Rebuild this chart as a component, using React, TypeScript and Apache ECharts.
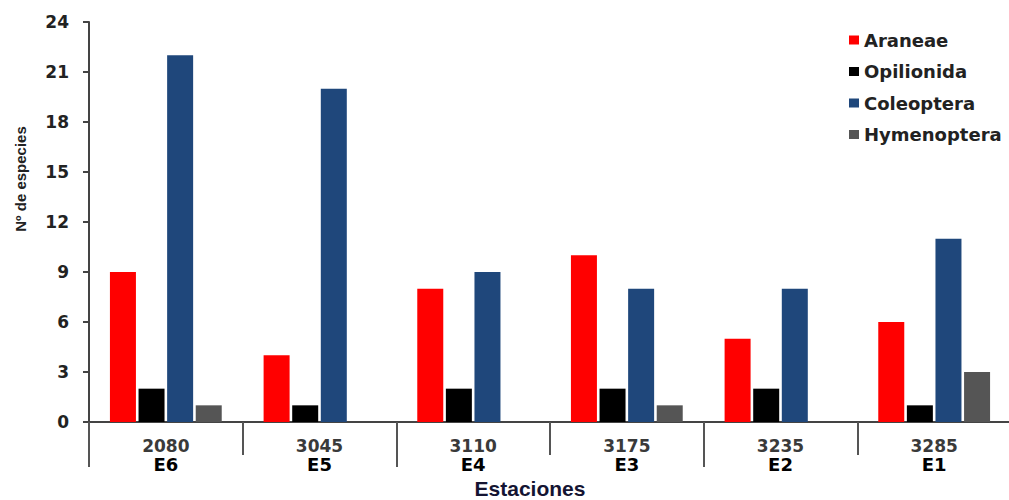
import React, { useEffect, useRef } from "react";
import * as echarts from "echarts";

const altitudes = ["2080", "3045", "3110", "3175", "3235", "3285"];
const stations = ["E6", "E5", "E4", "E3", "E2", "E1"];
const araneae = [9, 4, 8, 10, 5, 6];
const opilionida = [2, 1, 2, 2, 2, 1];
const coleoptera = [22, 20, 9, 8, 8, 11];
const hymenoptera = [1, 0, 0, 1, 0, 3];
const yTicks = [0, 3, 6, 9, 12, 15, 18, 21, 24];

const WIDE = "DejaVu Sans, Verdana, sans-serif";
const ARIAL = "Liberation Sans, Arial, sans-serif";

export default function App() {
  const ref = useRef<HTMLDivElement>(null);
  useEffect(() => {
    document.body.style.margin = "0";
    const chart = echarts.init(ref.current!, null, { renderer: "svg" });
    const cats = altitudes.map((a, i) => `${a}\n${stations[i]}`);
    const mk = (name: string, data: number[], color: string) => ({
      name,
      type: "bar",
      data: data.map((v) => (v === 0 ? null : v)),
      barWidth: 26,
      barGap: "10%",
      itemStyle: { color },
    });
    chart.setOption({
      animation: false,
      backgroundColor: "#ffffff",
      textStyle: { fontFamily: WIDE },
      grid: { left: 89, top: 22, bottom: 78, width: 922, outerBoundsMode: "none", containLabel: false },
      legend: {
        orient: "vertical",
        left: 844,
        top: 26,
        itemWidth: 10,
        itemHeight: 9,
        itemGap: 13.5,
        icon: "rect",
        textStyle: { fontFamily: WIDE, fontWeight: "bold", fontSize: 18, color: "#222" },
        data: ["Araneae", "Opilionida", "Coleoptera", "Hymenoptera"],
      },
      xAxis: [
        {
          type: "category",
          data: cats,
          axisLine: { lineStyle: { color: "#444", width: 2 } },
          axisTick: { show: true, length: 33, lineStyle: { color: "#555", width: 2 } },
          axisLabel: {
            margin: 14,
            formatter: (v: string) => {
              const [a, b] = v.split("\n");
              return `{a|${a}}\n{b|${b}}`;
            },
            rich: {
              a: { fontFamily: WIDE, fontWeight: "bold", fontSize: 17, color: "#3a3a3a", lineHeight: 19 },
              b: { fontFamily: WIDE, fontWeight: "bold", fontSize: 18, color: "#000", lineHeight: 19 },
            },
          },
        },
        {
          type: "category",
          data: cats,
          position: "bottom",
          axisLine: { show: false },
          axisLabel: { show: false },
          axisTick: {
            show: true,
            length: 45,
            interval: 1,
            lineStyle: { color: "#555", width: 2 },
          },
        },
      ],
      yAxis: {
        type: "value",
        min: 0,
        max: 24,
        interval: 3,
        splitLine: { show: false },
        axisLine: { show: true, lineStyle: { color: "#444", width: 2 } },
        axisTick: { show: true, length: 6, lineStyle: { color: "#444", width: 2 } },
        axisLabel: {
          margin: 20,
          fontFamily: WIDE,
          fontWeight: "bold",
          fontSize: 17,
          color: "#222",
          formatter: (v: number) => (yTicks.includes(v) ? String(v) : ""),
        },
      },
      graphic: [
        {
          type: "text",
          x: 20,
          y: 179,
          rotation: Math.PI / 2,
          style: {
            text: "Nº de especies",
            fontFamily: ARIAL,
            fontWeight: "bold",
            fontSize: 15,
            fill: "#222",
            textAlign: "center",
            textVerticalAlign: "middle",
          },
        },
        {
          type: "text",
          x: 530,
          y: 488,
          style: {
            text: "Estaciones",
            fontFamily: ARIAL,
            fontWeight: "bold",
            fontSize: 21,
            fill: "#141432",
            textAlign: "center",
            textVerticalAlign: "middle",
          },
        },
      ],
      series: [
        mk("Araneae", araneae, "#ff0000"),
        mk("Opilionida", opilionida, "#000000"),
        mk("Coleoptera", coleoptera, "#1f477b"),
        mk("Hymenoptera", hymenoptera, "#555555"),
      ],
    });
    return () => chart.dispose();
  }, []);
  return <div ref={ref} style={{ width: 1009, height: 500 }} />;
}
